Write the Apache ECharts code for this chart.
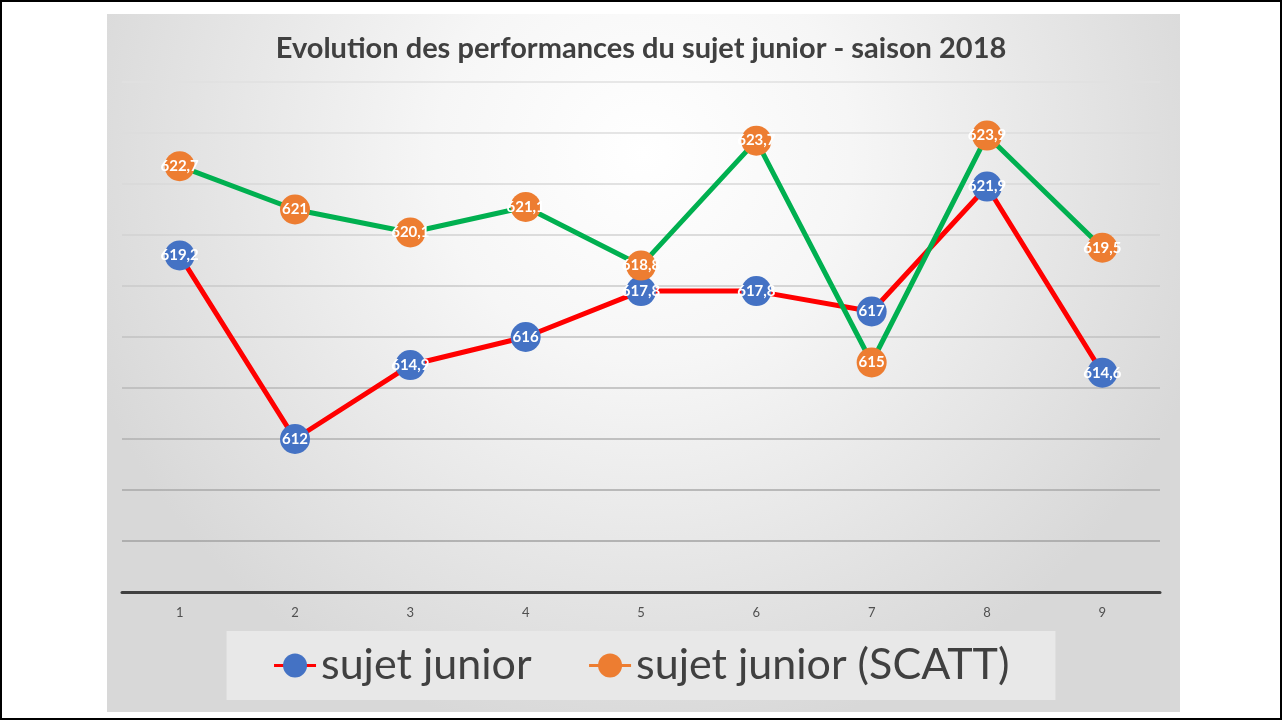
<!DOCTYPE html>
<html>
<head>
<meta charset="utf-8">
<script src="https://cdn.jsdelivr.net/npm/echarts@6/dist/echarts.min.js"></script>
<style>
  html, body { margin: 0; padding: 0; background: #fff; }
  #frame { width: 1282px; height: 720px; box-sizing: border-box; border: 2px solid #000; position: relative; }
  #chart { position: absolute; left: -2px; top: -2px; width: 1282px; height: 720px; }
</style>
</head>
<body>
<div id="frame"><div id="chart"></div></div>
<script>
var categories = ['1', '2', '3', '4', '5', '6', '7', '8', '9'];
var junior = [619.2, 612, 614.9, 616, 617.8, 617.8, 617, 621.9, 614.6];
var juniorScatt = [622.7, 621, 620.1, 621.1, 618.8, 623.7, 615, 623.9, 619.5];
var seriesNames = ['sujet junior', 'sujet junior (SCATT)'];

var myChart = echarts.init(document.getElementById('chart'));

function fr(p){
  return String(p.value).replace('.', ',');
}

// grid lines get darker towards the bottom, like the original
var gridColors = ['#9a9a9a', '#a2a2a2', '#a8a8a8', '#b0b0b0', '#b8b8b8', '#c2c2c2', '#cacaca', '#d2d2d2', '#d8d8d8', '#dddddd', '#e0e0e0'];

var option = {
  animation: false,
  textStyle: { fontFamily: 'Lato' },
  graphic: [{
    type: 'rect',
    left: 107,
    top: 14,
    z: -10,
    shape: { width: 1073, height: 698 },
    style: {
      fill: {
        type: 'radial',
        x: 0.5, y: 0.2, r: 0.85,
        colorStops: [
          { offset: 0, color: '#ffffff' },
          { offset: 0.35, color: '#f6f6f6' },
          { offset: 1, color: '#d8d8d8' }
        ]
      }
    }
  }],
  title: {
    text: 'Evolution des performances du sujet junior - saison 2018',
    left: 'center',
    top: 29,
    textStyle: { fontFamily: 'Lato', fontWeight: 'bold', fontSize: 29, color: '#404040' }
  },
  legend: {
    bottom: 20,
    left: 'center',
    backgroundColor: '#e8e8e8',
    padding: [13, 46],
    itemGap: 56,
    itemWidth: 42,
    itemHeight: 30,
    textStyle: { fontSize: 43, color: '#404040', fontFamily: 'Lato' },
    data: [
      { name: seriesNames[0], lineStyle: { color: '#FF0000', width: 3 } },
      { name: seriesNames[1], lineStyle: { color: '#ED7D31', width: 3 } }
    ]
  },
  grid: { left: 122, right: 122, top: 82, bottom: 128, containLabel: false },
  xAxis: {
    type: 'category',
    data: categories,
    axisLine: { lineStyle: { color: '#404040', width: 3 } },
    axisTick: { show: false },
    axisLabel: { color: '#505050', fontSize: 13, margin: 14 }
  },
  yAxis: {
    type: 'value',
    min: 606,
    max: 626,
    interval: 2,
    axisLine: { show: false },
    axisTick: { show: false },
    axisLabel: { show: false },
    splitLine: { lineStyle: { color: gridColors, width: 1.5 } }
  },
  series: [
    {
      name: seriesNames[0],
      type: 'line',
      data: junior,
      symbol: 'circle',
      symbolSize: 30,
      itemStyle: { color: '#4472C4' },
      lineStyle: { color: '#FF0000', width: 5 },
      label: {
        show: true, position: 'inside', formatter: fr,
        color: '#fff', fontSize: 15, fontWeight: 'bold', fontFamily: 'Lato'
      },
      z: 3
    },
    {
      name: seriesNames[1],
      type: 'line',
      data: juniorScatt,
      symbol: 'circle',
      symbolSize: 30,
      itemStyle: { color: '#ED7D31' },
      lineStyle: { color: '#00B050', width: 5 },
      label: {
        show: true, position: 'inside', formatter: fr,
        color: '#fff', fontSize: 15, fontWeight: 'bold', fontFamily: 'Lato'
      },
      z: 4
    }
  ]
};
myChart.setOption(option);
</script>
</body>
</html>
